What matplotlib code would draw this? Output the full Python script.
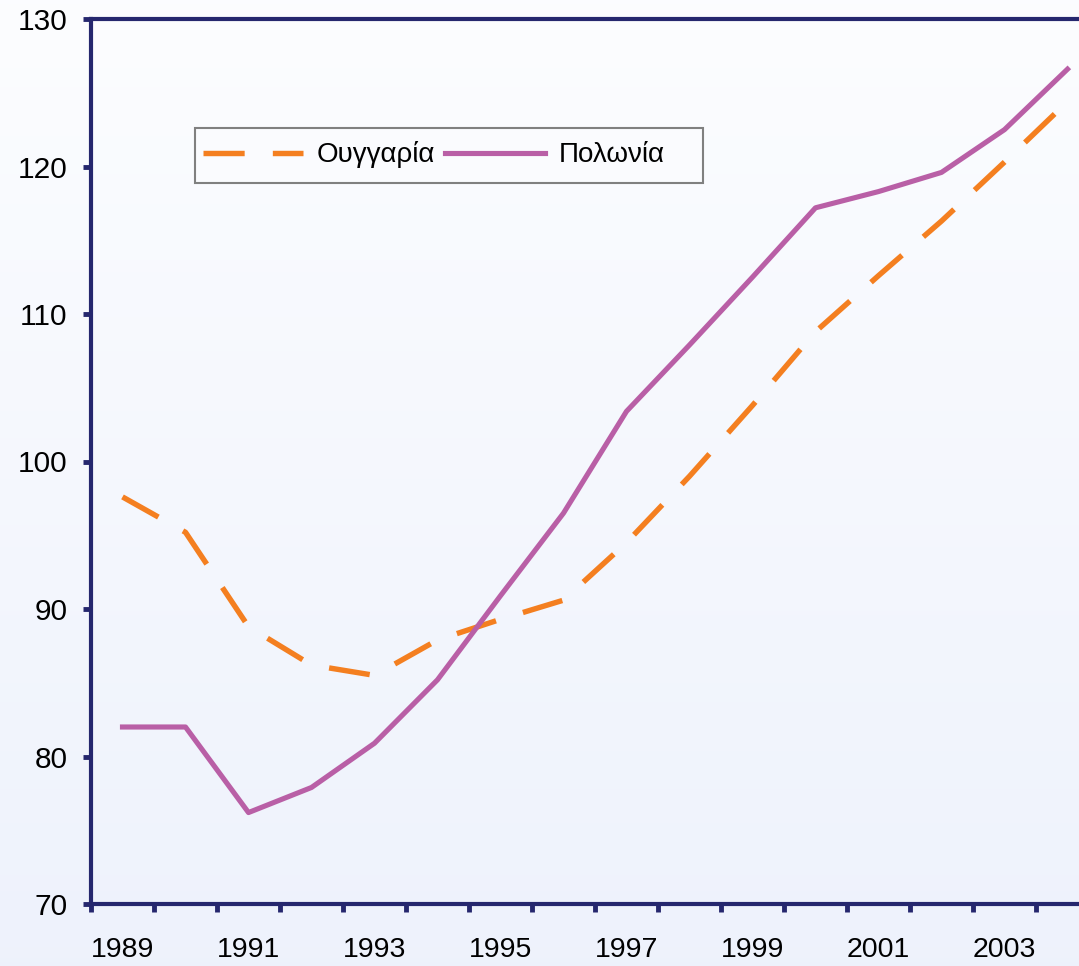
import numpy as np
import matplotlib
matplotlib.use("Agg")
import matplotlib.pyplot as plt
from matplotlib.patches import Rectangle

plt.rcParams['font.family'] = ['Liberation Sans', 'DejaVu Sans']

# data
years = list(range(1989, 2005))
hungary = [97.6, 95.2, 88.8, 86.2, 85.5, 87.9, 89.3, 90.6, 94.5, 99.0,
           103.8, 108.8, 112.6, 116.3, 120.3, 124.4]
poland = [82.0, 82.0, 76.2, 77.9, 80.9, 85.2, 90.9, 96.5, 103.4, 107.9,
          112.5, 117.2, 118.3, 119.6, 122.5, 126.6]
label_hu = "Ουγγαρία"
label_pl = "Πολωνία"

W, H = 1079, 966
fig = plt.figure(figsize=(W / 100, H / 100), dpi=100)

# background gradient (white at top to pale blue at bottom)
bg = fig.add_axes([0, 0, 1, 1], zorder=-10)
grad = np.linspace(0, 1, 256).reshape(-1, 1)
top_c = np.array([0.988, 0.992, 1.0])
bot_c = np.array([0.933, 0.949, 0.988])
img = top_c + (bot_c - top_c) * grad[:, :, None]
bg.imshow(img, aspect='auto', extent=[0, 1, 0, 1])
bg.axis('off')

# legend box drawn by hand, it is wider than the entries
bg.add_patch(Rectangle((195 / W, 1 - 183 / H), (703 - 195) / W, 55 / H,
                       transform=fig.transFigure, facecolor='#fafbfe',
                       edgecolor='#808080', lw=1.5, zorder=5))

navy = '#25276e'
left = 91 / W
bottom = 1 - 904 / H
height = (904 - 19) / H
width = 16 * 63 / W
ax = fig.add_axes([left, bottom, width, height])
ax.patch.set_alpha(0)

x = np.arange(len(years))
ax.plot(x, hungary, color='#f47f20', lw=3.9, linestyle=(0, (7.6, 5.2)),
        label=label_hu)
ax.plot(x, poland, color='#b95fa6', lw=3.7, label=label_pl,
        solid_joinstyle='round')

ax.set_xlim(-0.5, len(years) - 0.5)
ax.set_ylim(70, 130)
ax.set_yticks(range(70, 131, 10))

ax.set_xticks(np.arange(-0.5, len(years), 1.0))
ax.set_xticklabels([])
ax.set_xticks(x[::2], minor=True)
ax.set_xticklabels([str(y) for y in years[::2]], minor=True)

ax.tick_params(axis='x', which='major', direction='out', length=6,
               width=3.5, color=navy)
ax.tick_params(axis='x', which='minor', length=0, pad=24, labelsize=20.5)
ax.tick_params(axis='y', direction='out', length=6, width=3.5, color=navy,
               pad=11, labelsize=21.5)

for side in ['left', 'top', 'bottom']:
    ax.spines[side].set_color(navy)
    ax.spines[side].set_linewidth(3)
ax.spines['right'].set_visible(False)

leg = ax.legend(loc='center left', bbox_to_anchor=(203 / W, 1 - 155 / H),
                bbox_transform=fig.transFigure, ncol=2, fontsize=20,
                frameon=False, handlelength=3.6,
                handletextpad=0.5, columnspacing=0.35, borderpad=0,
                borderaxespad=0)

fig.savefig('out.png', dpi=100)
